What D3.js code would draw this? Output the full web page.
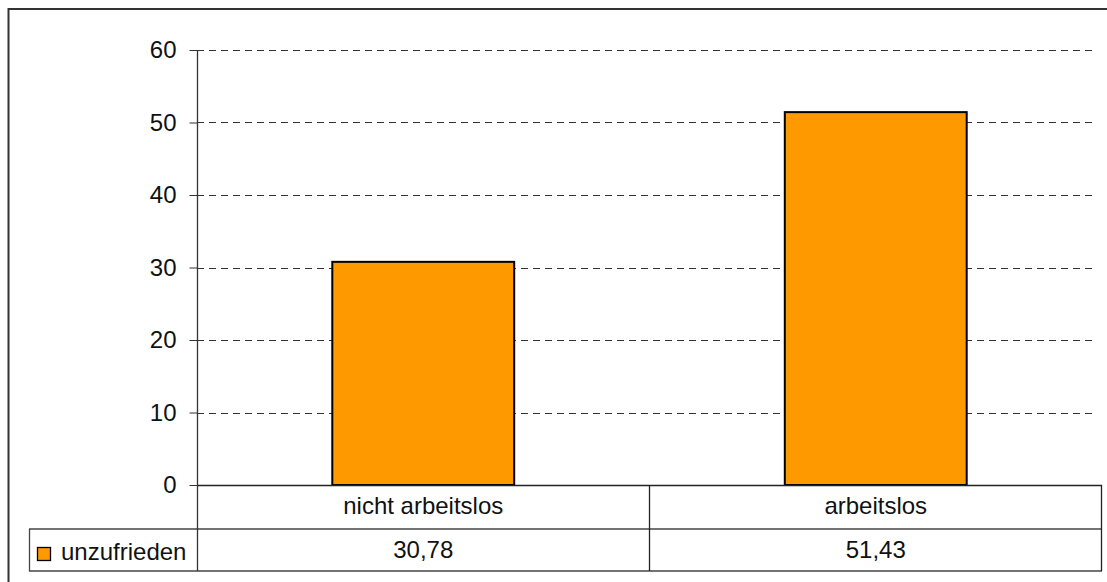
<!DOCTYPE html>
<html>
<head>
<meta charset="utf-8">
<script src="https://cdn.jsdelivr.net/npm/d3@7"></script>
<style>
  html, body { margin: 0; padding: 0; background: #fff; }
  svg { display: block; font-family: "Liberation Sans", Arial, sans-serif; }
</style>
</head>
<body>
<svg id="chart" width="1107" height="582"></svg>
<script>
// Chart data
const categories = ["nicht arbeitslos", "arbeitslos"];
const seriesName = "unzufrieden";
const values = [30.78, 51.43];
const yTicks = [0, 10, 20, 30, 40, 50, 60];

const W = 1107, H = 582;
const plot = { left: 197, right: 1102, top: 50, bottom: 485 };
const tableRow1 = 529, tableBottom = 571, legendLeft = 29;
const barColor = "#ff9900";
const fontSize = 24;

const de = d3.formatLocale({ decimal: ",", thousands: ".", grouping: [3], currency: ["", " €"] });
const fmt = de.format(".2f");

const svg = d3.select("#chart");

// Outer chart frame
svg.append("rect")
  .attr("x", 8.5).attr("y", 9)
  .attr("width", W + 20).attr("height", H + 20)
  .attr("fill", "none").attr("stroke", "#333").attr("stroke-width", 2);

const y = d3.scaleLinear().domain([0, 60]).range([plot.bottom, plot.top]);
const x = d3.scaleBand().domain(categories).range([plot.left, plot.right]).paddingInner(0).paddingOuter(0);

// Dashed gridlines
svg.append("g").selectAll("line")
  .data(yTicks.filter(d => d > 0))
  .join("line")
  .attr("x1", plot.left).attr("x2", 1097)
  .attr("y1", d => Math.round(y(d)) + 0.5).attr("y2", d => Math.round(y(d)) + 0.5)
  .attr("stroke", "#333").attr("stroke-width", 1)
  .attr("stroke-dasharray", "7,5");

// Y axis
const yAxis = d3.axisLeft(y).tickValues(yTicks).tickSize(8).tickPadding(13).tickFormat(d3.format("d"));
const gy = svg.append("g")
  .attr("transform", `translate(${plot.left + 0.5},0)`)
  .call(yAxis);
gy.select(".domain").remove();
gy.selectAll(".tick line").attr("stroke", "#333");
gy.selectAll(".tick text")
  .attr("font-size", fontSize).attr("fill", "#111")
  .attr("font-family", "\"Liberation Sans\", Arial, sans-serif")
  .attr("dy", "0.32em");

// Bars
const barW = x.bandwidth() * 0.402;
svg.append("g").selectAll("rect")
  .data(values)
  .join("rect")
  .attr("x", (d, i) => x(categories[i]) + (x.bandwidth() - barW) / 2)
  .attr("y", d => y(d))
  .attr("width", barW)
  .attr("height", d => y(0) - y(d))
  .attr("fill", barColor)
  .attr("stroke", "#000").attr("stroke-width", 2);

// Data table grid
const grid = svg.append("g").attr("stroke", "#444").attr("stroke-width", 1.3).attr("fill", "none");
grid.append("line").attr("x1", plot.left).attr("x2", plot.right).attr("y1", plot.bottom + 0.5).attr("y2", plot.bottom + 0.5).attr("stroke", "#222");
grid.append("line").attr("x1", legendLeft).attr("x2", plot.right).attr("y1", tableRow1).attr("y2", tableRow1);
grid.append("line").attr("x1", legendLeft).attr("x2", plot.right).attr("y1", tableBottom).attr("y2", tableBottom);
grid.append("line").attr("x1", legendLeft + 0.5).attr("x2", legendLeft + 0.5).attr("y1", tableRow1).attr("y2", tableBottom);
// vertical lines: y axis line extends through the table
grid.append("line").attr("x1", plot.left + 0.5).attr("x2", plot.left + 0.5).attr("y1", plot.top).attr("y2", tableBottom).attr("stroke", "#333");
categories.forEach((c, i) => {
  const xe = Math.round(x(c) + x.bandwidth()) - 0.5;
  grid.append("line").attr("x1", xe).attr("x2", xe).attr("y1", plot.bottom).attr("y2", tableBottom).attr("stroke", "#222");
});

// Category labels
svg.append("g").selectAll("text")
  .data(categories)
  .join("text")
  .attr("x", d => x(d) + x.bandwidth() / 2)
  .attr("y", 514)
  .attr("text-anchor", "middle")
  .attr("font-size", fontSize).attr("fill", "#111")
  .text(d => d);

// Value row
svg.append("g").selectAll("text")
  .data(values)
  .join("text")
  .attr("x", (d, i) => x(categories[i]) + x.bandwidth() / 2)
  .attr("y", 558)
  .attr("text-anchor", "middle")
  .attr("font-size", fontSize).attr("fill", "#111")
  .text(d => fmt(d));

// Legend key in the table
svg.append("rect")
  .attr("x", 37.5).attr("y", 547.5).attr("width", 13).attr("height", 13)
  .attr("fill", barColor).attr("stroke", "#000").attr("stroke-width", 1.3);
svg.append("text")
  .attr("x", 61).attr("y", 560)
  .attr("font-size", fontSize).attr("fill", "#111")
  .text(seriesName);
</script>
</body>
</html>
